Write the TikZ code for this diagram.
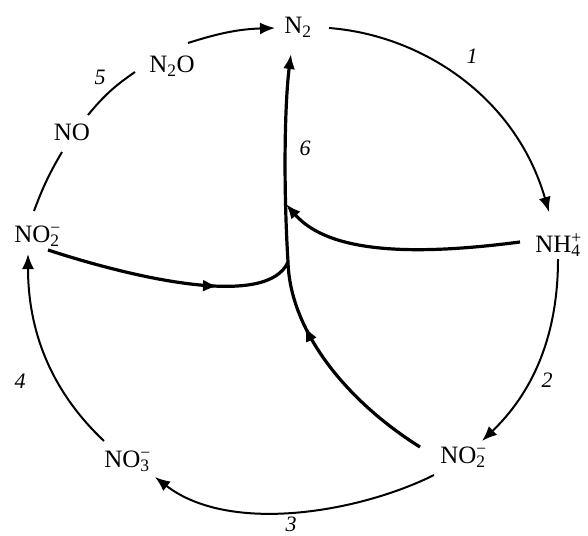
\documentclass[tikz,border=0pt]{standalone}
\usepackage{fontspec}
\setmainfont{Liberation Serif}
\usetikzlibrary{arrows.meta, decorations.markings}
\newcommand{\chion}[2]{\rlap{\textsuperscript{#2}}\textsubscript{#1}}

\begin{document}
\begin{tikzpicture}[
  x=1pt, y=-1pt,
  font=\fontsize{25}{29}\selectfont,
  species/.style={inner sep=0pt},
  stepno/.style={font=\fontsize{22}{26}\selectfont\itshape},
  cyc/.style={line width=2pt},
  fix/.style={line width=3.2pt},
  arrowed/.style={-{Latex[length=15pt,width=12pt]}},
  midtip/.style={postaction={decorate},
    decoration={markings, mark=at position #1 with {\arrow{Latex[length=15pt,width=12pt]}}}},
]
\useasboundingbox (0,0) rectangle (588,535);

% species round the cycle
\node[species] (n2)   at (298,27)  {N\textsubscript{2}};
\node[species] (n2o)  at (172,66)  {N\textsubscript{2}O};
\node[species] (no)   at (72,132)  {NO};
\node[species] (no2l) at (37,236)  {NO\chion{2}{−}};
\node[species] (no3)  at (127,461) {NO\chion{3}{−}};
\node[species] (no2r) at (463,457) {NO\chion{2}{−}};
\node[species] (nh4)  at (558,245) {NH\chion{4}{+}};

\coordinate (junc) at (288,262);
\coordinate (meet) at (286,204);

% outer cycle
\draw[cyc, arrowed] ([shift={(31,1)}]n2.center)
    .. controls (420,35) and (515,95) .. ([shift={(-9,-33)}]nh4.center);
\draw[cyc, arrowed] ([shift={(0,14)}]nh4.center)
    .. controls (558,340) and (530,395) .. ([shift={(19,-16)}]no2r.center);
\draw[cyc, arrowed] ([shift={(-29,18)}]no2r.center)
    .. controls (360,512) and (230,535) .. ([shift={(28,16)}]no3.center);
\draw[cyc, arrowed] ([shift={(-23,-20)}]no3.center)
    .. controls (50,390) and (28,330) .. ([shift={(-9,18)}]no2l.center);
\draw[cyc] ([shift={(-3,-25)}]no2l.center) to[bend left=5] ([shift={(-10,20)}]no.center);
\draw[cyc] ([shift={(16,-17)}]no.center) to[bend left=8] ([shift={(-37,6)}]n2o.center);
\draw[cyc, arrowed] ([shift={(16,-23)}]n2o.center) to[bend left=8] ([shift={(-23,1)}]n2.center);

% inner paths
\draw[fix, arrowed, midtip=0.38] ([shift={(-43,-10)}]no2r.center)
    .. controls (345,400) and (290,330) .. (junc)
    .. controls (283,180) and (285,100) .. ([shift={(-7,27)}]n2.center);
\draw[fix, midtip=0.69] ([shift={(11,14)}]no2l.center)
    .. controls (140,280) and (268,308) .. (junc);
\draw[fix, arrowed] ([shift={(-38,-3)}]nh4.center)
    .. controls (420,255) and (330,255) .. (meet);

% step numbers
\node[stepno] (s1) at (472,56)  {1};
\node[stepno] (s2) at (547,380) {2};
\node[stepno] (s3) at (291,524) {3};
\node[stepno] (s4) at (20,381)  {4};
\node[stepno] (s5) at (100,77)  {5};
\node[stepno] (s6) at (305,148) {6};
\end{tikzpicture}
\end{document}
